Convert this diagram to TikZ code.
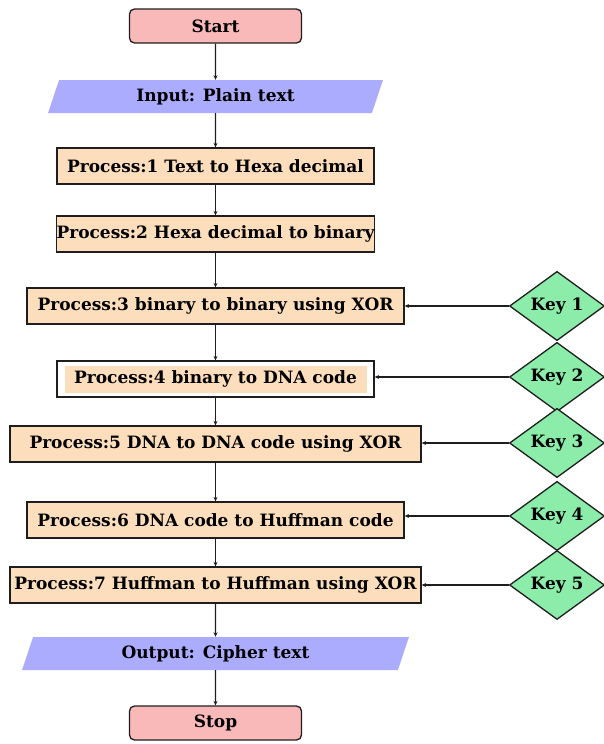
\documentclass[tikz,border=0pt]{standalone}
\usepackage{fontspec}
\setmainfont{DejaVu Serif}
\usetikzlibrary{shapes.geometric,arrows.meta}
\definecolor{pinkf}{RGB}{250,185,185}
\definecolor{lavf}{RGB}{172,172,255}
\definecolor{peachf}{RGB}{252,222,188}
\definecolor{greenf}{RGB}{140,236,170}
\definecolor{edge}{RGB}{30,30,30}
\begin{document}
\begin{tikzpicture}[x=1pt,y=-1pt,
  every node/.style={font=\fontsize{17}{20}\selectfont\bfseries, text=black},
  term/.style={draw=edge, line width=1.3pt, fill=pinkf, rounded corners=5pt, minimum width=172pt, minimum height=34pt, inner sep=0pt},
  proc/.style={draw=edge, line width=1.3pt, fill=peachf, minimum height=36pt, inner sep=0pt},
  io/.style={trapezium, trapezium left angle=56, trapezium right angle=124, trapezium stretches body, fill=lavf, minimum height=33pt, inner sep=0pt},
  keyd/.style={diamond, draw=edge, line width=1.3pt, fill=greenf, minimum width=95pt, minimum height=65pt, inner sep=0pt},
  conn/.style={draw=edge, line width=1.2pt, -{Stealth[length=4.5pt,width=4pt]}}
]
\useasboundingbox (0,0) rectangle (604,744);
\node[term] (start) at (215.5,26) {Start};
\node[io, minimum width=335pt] (in) at (215.5,96.5) {Input: Plain text};
\node[proc, minimum width=317pt] (p1) at (215.5,166) {Process:1 Text to Hexa decimal};
\node[proc, minimum width=317pt] (p2) at (215.5,234) {Process:2 Hexa decimal to binary};
\node[proc, minimum width=377pt] (p3) at (215.5,306) {Process:3 binary to binary using XOR};
\node[proc, fill=white, minimum width=317pt] (p4) at (215.5,379) {};
\node[fill=peachf, minimum width=302pt, minimum height=27pt, inner sep=0pt] (p4t) at (p4.center) {Process:4 binary to DNA code};
\node[proc, minimum width=411pt] (p5) at (215.5,444) {Process:5 DNA to DNA code using XOR};
\node[proc, minimum width=377pt] (p6) at (215.5,520) {Process:6 DNA code to Huffman code};
\node[proc, minimum width=411pt] (p7) at (215.5,585) {Process:7 Huffman to Huffman using XOR};
\node[io, minimum width=387pt] (out) at (215.5,653.5) {Output: Cipher text};
\node[term] (stop) at (215.5,723) {Stop};
\node[keyd] (k1) at (557,306) {Key 1};
\node[keyd] (k2) at (557,377) {Key 2};
\node[keyd] (k3) at (557,443) {Key 3};
\node[keyd] (k4) at (557,516) {Key 4};
\node[keyd] (k5) at (557,585) {Key 5};
\draw[conn] (start) -- (in);
\draw[conn] (in) -- (p1);
\draw[conn] (p1) -- (p2);
\draw[conn] (p2) -- (p3);
\draw[conn] (p3) -- (p4);
\draw[conn] (p4) -- (p5);
\draw[conn] (p5) -- (p6);
\draw[conn] (p6) -- (p7);
\draw[conn] (p7) -- (out);
\draw[conn] (out) -- (stop);
\draw[conn] (k1.west) -- (k1.west -| p3.east);
\draw[conn] (k2.west) -- (k2.west -| p4.east);
\draw[conn] (k3.west) -- (k3.west -| p5.east);
\draw[conn] (k4.west) -- (k4.west -| p6.east);
\draw[conn] (k5.west) -- (k5.west -| p7.east);
\end{tikzpicture}
\end{document}
